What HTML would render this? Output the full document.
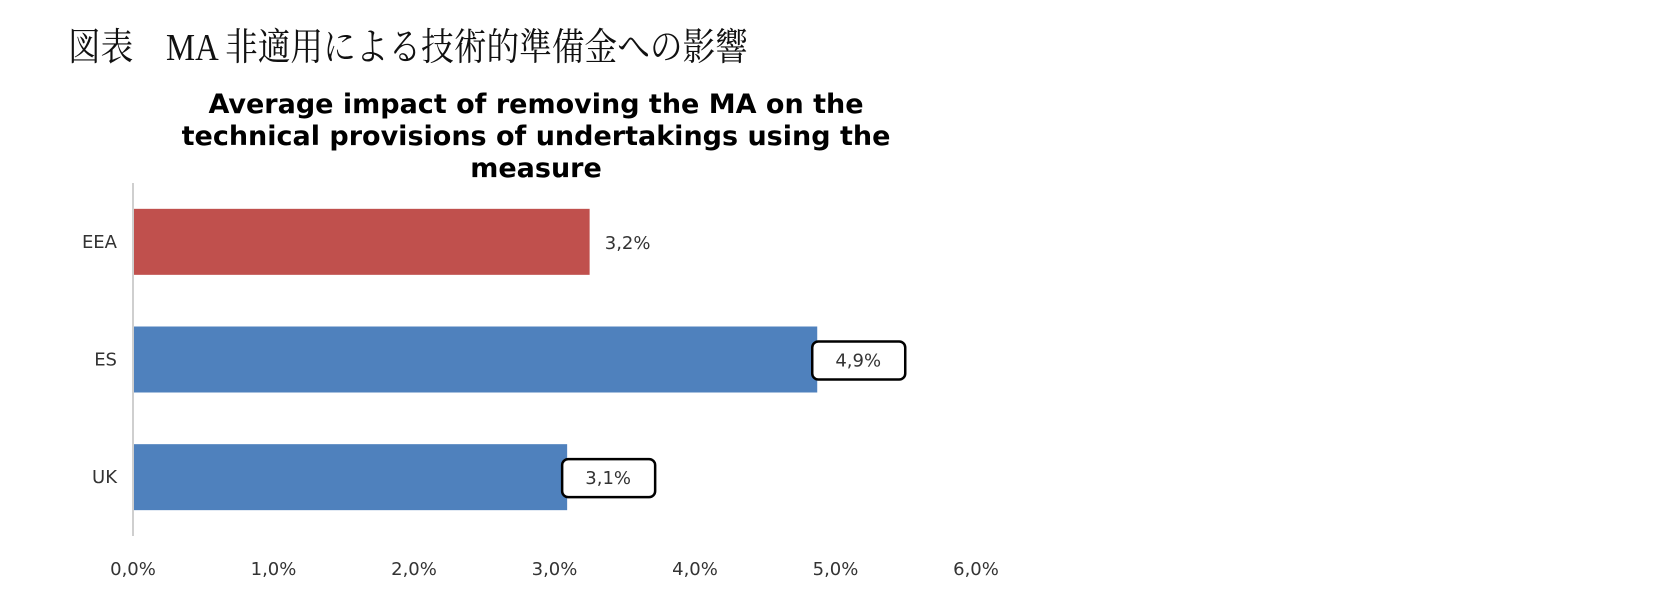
<!DOCTYPE html>
<html><head><meta charset="utf-8"><style>
html,body{margin:0;padding:0;background:#fff;}
body{width:1665px;height:602px;overflow:hidden;position:relative;}
</style></head><body>
<div style="position:absolute;left:68px;top:16px;font-family:'Liberation Serif','Noto Serif CJK SC',serif;font-size:38px;color:#111;white-space:nowrap;transform:scaleX(0.86);transform-origin:0 0;">図表　MA 非適用による技術的準備金への影響</div>
<svg width="1665" height="602" style="position:absolute;left:0;top:0" xmlns="http://www.w3.org/2000/svg">
<g font-family="'DejaVu Sans',sans-serif" font-weight="bold" font-size="27" text-anchor="middle" fill="#000">
<text x="536" y="113">Average impact of removing the MA on the</text>
<text x="536" y="145">technical provisions of undertakings using the</text>
<text x="536" y="177">measure</text>
</g>
<g id="plot"></g>
</svg>
<script>
const categories = ["EEA","ES","UK"];
const values = [3.25, 4.87, 3.09];
const valueLabels = ["3,2%","4,9%","3,1%"];
const boxed = [false, true, true];
const colors = ["#C0504D","#4F81BD","#4F81BD"];
const ticks = [0,1,2,3,4,5,6];
const tickLabels = ["0,0%","1,0%","2,0%","3,0%","4,0%","5,0%","6,0%"];

const NS="http://www.w3.org/2000/svg";
const g=document.getElementById('plot');
const x0=133, pxPer=140.5, yTop=183, yBot=536;
const xs=v=>x0+v*pxPer;
const band=(yBot-yTop)/categories.length;
const ys=i=>yTop+i*band;
const barH=66;
function mk(t,a){const e=document.createElementNS(NS,t);for(const k in a)e.setAttribute(k,a[k]);return e;}
const axis=mk('line',{x1:x0,y1:yTop,x2:x0,y2:yBot,stroke:'#bfbfbf','stroke-width':1.5});


g.appendChild(axis);
categories.forEach((c,i)=>{
  const yc=ys(i)+band/2;
  const r=mk('rect',{x:x0+1,y:yc-barH/2,width:xs(values[i])-x0-1,height:barH,fill:colors[i]});
  
  
  g.appendChild(r);
  const t=mk('text',{x:x0-16,y:yc+6,'text-anchor':'end','font-family':"'DejaVu Sans',sans-serif",'font-size':18,fill:'#333'});
  t.textContent=c;
  
  
  g.appendChild(t);
  const lx=xs(values[i]);
  if(boxed[i]){
    const b=mk('rect',{x:lx-5,y:yc-18,width:93,height:38,rx:6,fill:'#fff',stroke:'#000','stroke-width':2.5});
    
    
    g.appendChild(b);
  }
  const v=mk('text',{x:lx+(boxed[i]?41:38),y:yc+7,'text-anchor':'middle','font-family':"'DejaVu Sans',sans-serif",'font-size':18,fill:'#333'});
  v.textContent=valueLabels[i];
  
  
  g.appendChild(v);
});
ticks.forEach((tk,i)=>{
  const t=mk('text',{x:xs(tk),y:575,'text-anchor':'middle','font-family':"'DejaVu Sans',sans-serif",'font-size':18,fill:'#333'});
  t.textContent=tickLabels[i];
  
  
  g.appendChild(t);
});
</script>
</body></html>
